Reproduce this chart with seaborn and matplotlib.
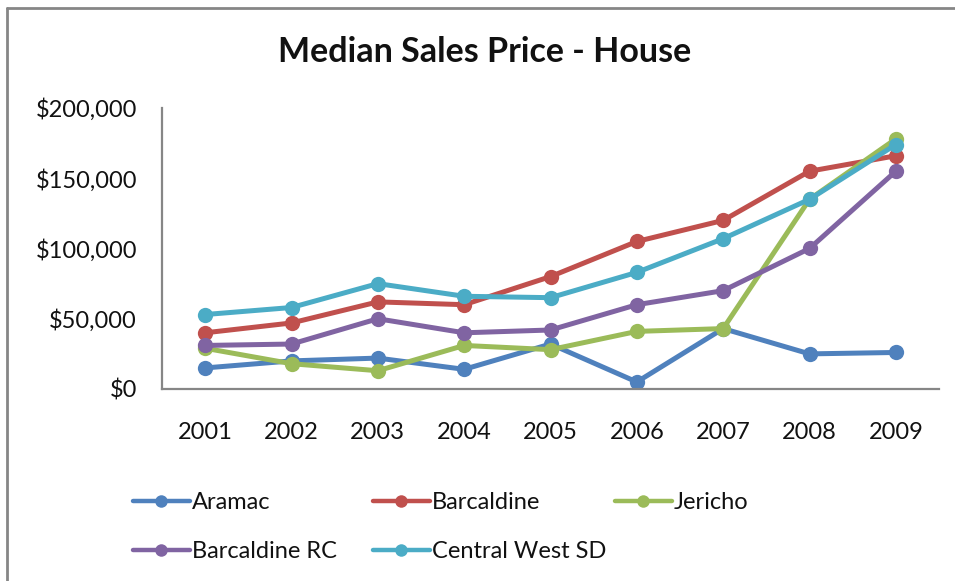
import matplotlib
matplotlib.use("Agg")
import matplotlib.pyplot as plt
from matplotlib.lines import Line2D
from matplotlib.ticker import FuncFormatter, FixedLocator
import pandas as pd
import seaborn as sns

# Datos
years = ["2001", "2002", "2003", "2004", "2005", "2006", "2007", "2008", "2009"]
aramac = [15000, 20000, 22000, 14000, 32000, 5000, 43000, 25000, 26000]
barcaldine = [40000, 47000, 62000, 60000, 80000, 105000, 120000, 155000, 166000]
jericho = [29000, 18000, 13000, 31000, 28000, 41000, 43000, 135000, 178000]
barcaldine_rc = [31000, 32000, 50000, 40000, 42000, 60000, 70000, 100000, 155000]
central_west = [53000, 58000, 75000, 66000, 65000, 83000, 107000, 135000, 174000]

series = ["Aramac", "Barcaldine", "Jericho", "Barcaldine RC", "Central West SD"]
colores = ["#4F81BD", "#C0504D", "#9BBB59", "#8064A2", "#4BACC6"]

df = pd.DataFrame({
    "year": list(range(len(years))) * 5,
    "price": aramac + barcaldine + jericho + barcaldine_rc + central_west,
    "area": sum([[s] * len(years) for s in series], []),
})

sns.set_style("white")
plt.rcParams["font.family"] = ["Lato", "DejaVu Sans"]
gris = "#868686"

fig = plt.figure(figsize=(9.55, 5.81), dpi=100)
ax = fig.add_axes([162 / 955, 1 - 389 / 581, (939 - 162) / 955, (389 - 108) / 581])

sns.lineplot(data=df, x="year", y="price", hue="area", hue_order=series,
             palette=colores, marker="o", markersize=11, markeredgewidth=0,
             linewidth=3.6, ax=ax, legend=True)

ax.set_xlim(-0.5, len(years) - 0.5)
ax.set_ylim(0, 200000)
ax.set_yticks([0, 50000, 100000, 150000, 200000])
ax.yaxis.set_major_formatter(FuncFormatter(lambda v, p: "${:,.0f}".format(v)))
ax.set_xticks(range(len(years)))
ax.set_xticklabels(years)
ax.xaxis.set_minor_locator(FixedLocator([i - 0.5 for i in range(len(years) + 1)]))
ax.tick_params(axis="x", which="major", length=0, pad=24, labelsize=17, labelcolor="#111111")
ax.tick_params(axis="x", which="minor", length=6, color=gris, width=1.3)
ax.tick_params(axis="y", length=5, color=gris, width=1.3, labelsize=17, pad=13,
               labelcolor="#111111")
ax.set_xlabel("")
ax.set_ylabel("")
for s in ["top", "right"]:
    ax.spines[s].set_visible(False)
for s in ["left", "bottom"]:
    ax.spines[s].set_color(gris)
    ax.spines[s].set_linewidth(1.6)
ax.grid(False)

fig.text(485 / 955, 1 - 52 / 581, "Median Sales Price - House", ha="center", va="center",
         fontsize=24.5, fontweight="bold", color="#111111")

# leyenda: una columna por cada grupo, filas como en Excel
handles, labels = ax.get_legend_handles_labels()
lookup = dict(zip(labels, handles))
ax.get_legend().remove()
columnas = [(["Aramac", "Barcaldine RC"], 133), (["Barcaldine", "Central West SD"], 373),
            (["Jericho"], 615)]
for nombres, x0 in columnas:
    hs = [Line2D([], [], color=lookup[n].get_color(), linewidth=3.2, marker="o",
                 markersize=9, markeredgewidth=0) for n in nombres]
    fig.legend(hs, nombres, loc="upper left",
               bbox_to_anchor=(x0 / 955, 1 - 492 / 581), frameon=False,
               fontsize=17, handlelength=2.4, handletextpad=0.1,
               labelspacing=1.19, borderpad=0, borderaxespad=0,
               labelcolor="#111111")

# marco exterior (solo izquierda y arriba visibles)
fig.add_artist(Line2D([7 / 955, 7 / 955], [0, 1 - 8 / 581], transform=fig.transFigure,
                      color=gris, linewidth=2))
fig.add_artist(Line2D([7 / 955, 1], [1 - 8 / 581, 1 - 8 / 581], transform=fig.transFigure,
                      color=gris, linewidth=2))

fig.savefig("out.png", dpi=100)
